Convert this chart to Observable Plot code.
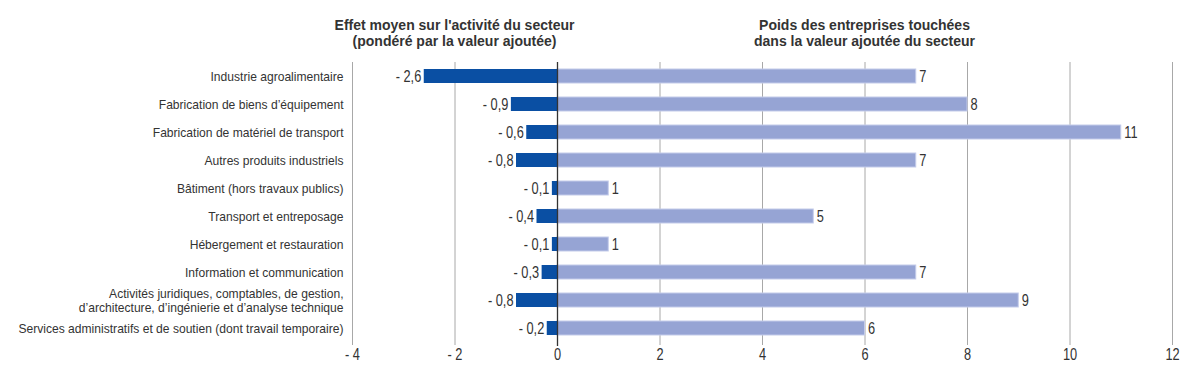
<!DOCTYPE html>
<html><head><meta charset="utf-8">
<script src="https://cdn.jsdelivr.net/npm/d3@7"></script>
<script src="https://cdn.jsdelivr.net/npm/@observablehq/plot@0.6"></script>
<style>
body{margin:0;background:#fff;}
#wrap{position:relative;width:1200px;height:392px;font-family:"Liberation Sans",Arial,sans-serif;}
.title{position:absolute;top:17px;transform:translateX(-50%);text-align:center;font-weight:bold;font-size:14px;line-height:16px;color:#333;white-space:pre;}
</style></head><body><div id="wrap"></div>
<script>
const categories = [
  "Industrie agroalimentaire",
  "Fabrication de biens d’équipement",
  "Fabrication de matériel de transport",
  "Autres produits industriels",
  "Bâtiment (hors travaux publics)",
  "Transport et entreposage",
  "Hébergement et restauration",
  "Information et communication",
  "Activités juridiques, comptables, de gestion,\nd’architecture, d’ingénierie et d’analyse technique",
  "Services administratifs et de soutien (dont travail temporaire)"
];
const effet = [-2.6, -0.9, -0.6, -0.8, -0.1, -0.4, -0.1, -0.3, -0.8, -0.2];
const poids = [7, 8, 11, 7, 1, 5, 1, 7, 9, 6];
const xTicks = [-4, -2, 0, 2, 4, 6, 8, 10, 12];
const titles = [
  {text: "Effet moyen sur l'activité du secteur\n(pondéré par la valeur ajoutée)", at: -2},
  {text: "Poids des entreprises touchées\ndans la valeur ajoutée du secteur", at: 6}
];

const fmt = v => (v < 0 ? "- " : "") + String(Math.abs(v)).replace(".", ",");
const data = categories.map((c, i) => ({c, effet: effet[i], poids: poids[i]}));
const font = '"Liberation Sans",Arial,sans-serif';

const plot = Plot.plot({
  width: 1200, height: 392,
  marginLeft: 352, marginRight: 28, marginTop: 62, marginBottom: 50,
  style: {fontFamily: font, fontSize: "13px", color: "#333", background: "white"},
  x: {domain: [-4, 12], label: null, axis: null},
  y: {domain: categories, paddingInner: 0.5, paddingOuter: 0.25, label: null},
  marks: [
    Plot.ruleX(xTicks, {stroke: "#a8a8a8", strokeWidth: 1, insetBottom: -3}),
    Plot.barX(data, {x: "poids", y: "c", fill: "#96a4d4", stroke: "#c3cbea", strokeWidth: 1}),
    Plot.barX(data, {x: "effet", y: "c", fill: "#0a4fa3"}),
    Plot.ruleX([0], {stroke: "#333", strokeWidth: 1.3, insetBottom: -4}),
    Plot.text(data, {x: "effet", y: "c", text: d => fmt(d.effet), textAnchor: "end", dx: -3, fontSize: 16, fill: "#333", className: "vlab"}),
    Plot.text(data, {x: "poids", y: "c", text: d => fmt(d.poids), textAnchor: "start", dx: 3, fontSize: 16, fill: "#333", className: "vlab"}),
    Plot.text(xTicks, {x: d => d, text: fmt, frameAnchor: "bottom", lineAnchor: "top", dy: 6, fontSize: 16, fill: "#333", className: "xlab"}),
    Plot.axisY({tickSize: 0, tickPadding: 9, fontSize: 13, lineHeight: 1.05, label: null, className: "ylab"})
  ]
});
const wrap = document.getElementById("wrap");
wrap.appendChild(plot);

// condense text horizontally (the original uses a narrow typeface)
function condense(sel, s, size) {
  plot.querySelectorAll(sel).forEach(t => {
    let tr = t.getAttribute("transform");
    if (!tr) {
      const x = t.getAttribute("x") || 0, y = t.getAttribute("y") || 0;
      t.removeAttribute("x"); t.removeAttribute("y");
      tr = `translate(${x},${y})`;
    }
    t.setAttribute("transform", tr + ` scale(${s},1)`);
    if (size) t.style.fontSize = size;
  });
}
condense(".vlab text", 0.8, "16px");
condense(".xlab text", 0.8, "16px");
condense(".ylab text", 0.93, "13px");

const xs = plot.scale("x");
for (const t of titles) {
  const d = document.createElement("div");
  d.className = "title";
  d.textContent = t.text;
  d.style.left = xs.apply(t.at) + "px";
  wrap.appendChild(d);
}
</script></body></html>
